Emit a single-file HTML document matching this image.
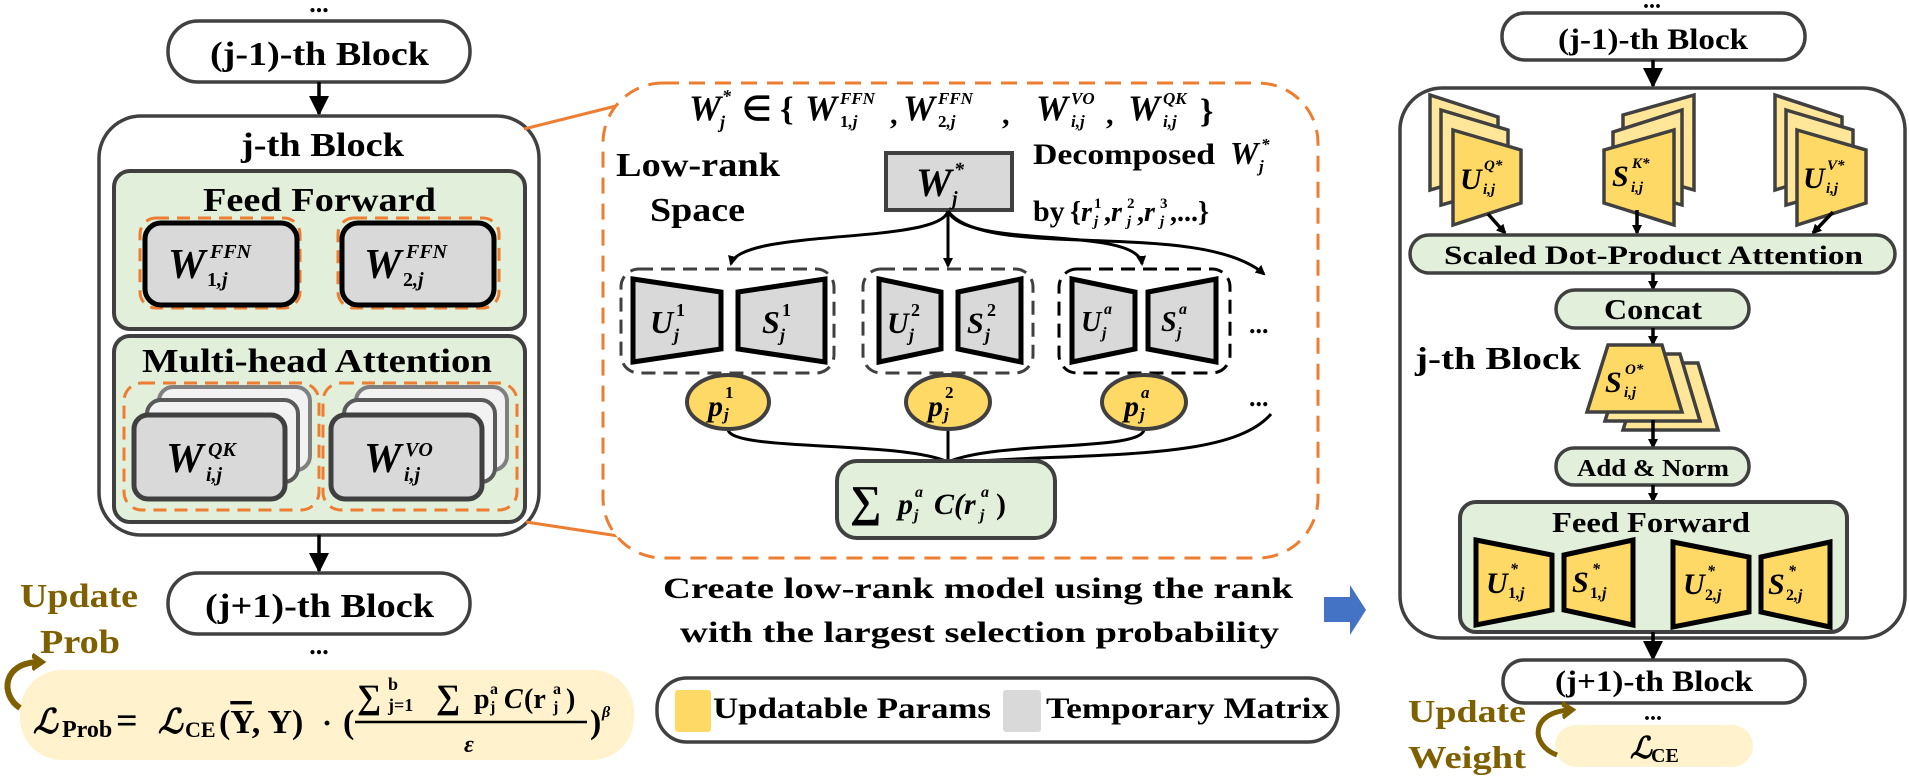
<!DOCTYPE html>
<html><head><meta charset="utf-8"><style>
html,body{margin:0;padding:0;background:#fff;}
svg{display:block;}
text{font-family:"Liberation Serif",serif;font-weight:bold;fill:#000;}
.m{font-style:italic;}
.br{fill:#7f6000;}
</style></head><body>
<svg width="1909" height="781" viewBox="0 0 1909 781" xmlns="http://www.w3.org/2000/svg">
<defs>
<marker id="ah" markerWidth="10" markerHeight="10" refX="8" refY="5" orient="auto" markerUnits="userSpaceOnUse"><path d="M0,0 L10,5 L0,10 z" fill="#000"/></marker>
<marker id="ahb" markerWidth="22" markerHeight="20" refX="18" refY="10" orient="auto" markerUnits="userSpaceOnUse"><path d="M0,0 L20,10 L0,20 z" fill="#000"/></marker>
<marker id="ahbr" markerWidth="18" markerHeight="18" refX="8" refY="9" orient="auto" markerUnits="userSpaceOnUse"><path d="M0,2 L10,9 L0,16" fill="none" stroke="#7f6000" stroke-width="5"/></marker>
</defs>

<!-- ============ LEFT ============ -->
<text x="319" y="12" text-anchor="middle" font-size="26">...</text>
<rect x="168" y="21" width="302" height="61" rx="30" fill="#fff" stroke="#404040" stroke-width="3.5"/>
<text x="210" y="65" font-size="34" textLength="219" lengthAdjust="spacingAndGlyphs">(j-1)-th Block</text>
<line x1="319" y1="82" x2="319" y2="114" stroke="#000" stroke-width="3.5" marker-end="url(#ahb)"/>
<rect x="99" y="116" width="440" height="419" rx="42" fill="#fff" stroke="#404040" stroke-width="3.5"/>
<text x="241" y="156" font-size="34" textLength="163" lengthAdjust="spacingAndGlyphs">j-th Block</text>

<rect x="114" y="171" width="411" height="158" rx="16" fill="#e2efda" stroke="#404040" stroke-width="4"/>
<text x="203" y="211" font-size="34" textLength="233" lengthAdjust="spacingAndGlyphs">Feed Forward</text>
<rect x="140" y="218" width="160" height="90" rx="16" fill="none" stroke="#ed7d31" stroke-width="3" stroke-dasharray="13 8"/>
<rect x="145" y="223" width="152" height="82" rx="16" fill="#d9d9d9" stroke="#000" stroke-width="5"/>
<text class="m" x="168" y="278" font-size="42">W</text>
<text class="m" x="210" y="258" font-size="20">FFN</text>
<text x="207" y="286" font-size="20">1<tspan class="m">,j</tspan></text>
<rect x="338" y="218" width="161" height="90" rx="16" fill="none" stroke="#ed7d31" stroke-width="3" stroke-dasharray="13 8"/>
<rect x="342" y="223" width="152" height="82" rx="16" fill="#d9d9d9" stroke="#000" stroke-width="5"/>
<text class="m" x="364" y="278" font-size="42">W</text>
<text class="m" x="406" y="258" font-size="20">FFN</text>
<text x="403" y="286" font-size="20">2<tspan class="m">,j</tspan></text>

<rect x="114" y="336" width="411" height="186" rx="16" fill="#e2efda" stroke="#404040" stroke-width="4"/>
<text x="142" y="372" font-size="34" textLength="350" lengthAdjust="spacingAndGlyphs">Multi-head Attention</text>
<rect x="124" y="383" width="195" height="127" rx="18" fill="none" stroke="#ed7d31" stroke-width="3" stroke-dasharray="13 8"/>
<rect x="159" y="387" width="151" height="83" rx="14" fill="#f2f2f2" stroke="#808080" stroke-width="4"/>
<rect x="147" y="400" width="151" height="82" rx="14" fill="#f2f2f2" stroke="#595959" stroke-width="4"/>
<rect x="134" y="415" width="151" height="84" rx="14" fill="#d9d9d9" stroke="#404040" stroke-width="5"/>
<text class="m" x="166" y="472" font-size="42">W</text>
<text class="m" x="208" y="456" font-size="20">QK</text>
<text class="m" x="206" y="481" font-size="20">i,j</text>
<rect x="323" y="383" width="194" height="127" rx="18" fill="none" stroke="#ed7d31" stroke-width="3" stroke-dasharray="13 8"/>
<rect x="356" y="387" width="151" height="83" rx="14" fill="#f2f2f2" stroke="#808080" stroke-width="4"/>
<rect x="344" y="400" width="151" height="82" rx="14" fill="#f2f2f2" stroke="#595959" stroke-width="4"/>
<rect x="331" y="415" width="151" height="84" rx="14" fill="#d9d9d9" stroke="#404040" stroke-width="5"/>
<text class="m" x="364" y="472" font-size="42">W</text>
<text class="m" x="405" y="456" font-size="20">VO</text>
<text class="m" x="404" y="481" font-size="20">i,j</text>

<line x1="319" y1="535" x2="319" y2="571" stroke="#000" stroke-width="3.5" marker-end="url(#ahb)"/>
<rect x="168" y="573" width="302" height="61" rx="30" fill="#fff" stroke="#404040" stroke-width="3.5"/>
<text x="205" y="617" font-size="34" textLength="229" lengthAdjust="spacingAndGlyphs">(j+1)-th Block</text>
<text x="319" y="654" text-anchor="middle" font-size="26">...</text>

<text class="br" x="20" y="607" font-size="34" textLength="118" lengthAdjust="spacingAndGlyphs">Update</text>
<text class="br" x="40" y="653" font-size="34" textLength="80" lengthAdjust="spacingAndGlyphs">Prob</text>

<rect x="20" y="670" width="614" height="90" rx="42" fill="#fff2cc"/>
<path d="M20 708 C 0 695, 2 662, 40 662" fill="none" stroke="#7f6000" stroke-width="6" marker-end="url(#ahbr)"/>
<text class="m" x="33" y="733" font-size="34">ℒ</text>
<text x="62" y="737" font-size="24">Prob</text>
<text x="116" y="733" font-size="38">=</text>
<text class="m" x="158" y="733" font-size="34">ℒ</text>
<text x="185" y="737" font-size="22">CE</text>
<text x="219" y="733" font-size="34">(<tspan text-decoration="overline">Y</tspan>, Y)</text>
<text x="322" y="733" font-size="30">·</text>
<text x="343" y="733" font-size="34">(</text>
<text x="357" y="708" font-size="34">∑</text>
<text x="388" y="690" font-size="18">b</text>
<text x="388" y="711" font-size="18">j=1</text>
<text x="436" y="708" font-size="34">∑</text>
<text x="474" y="708" font-size="28">p</text>
<text x="490" y="694" font-size="16">a</text>
<text x="490" y="712" font-size="16">j</text>
<text class="m" x="504" y="708" font-size="28">C</text>
<text x="524" y="708" font-size="28">(r</text>
<text x="553" y="694" font-size="16">a</text>
<text x="553" y="712" font-size="16">j</text>
<text x="566" y="708" font-size="28">)</text>
<line x1="355" y1="722" x2="587" y2="722" stroke="#000" stroke-width="2.5"/>
<text class="m" x="464" y="752" font-size="24">ε</text>
<text x="590" y="733" font-size="34">)</text>
<text class="m" x="602" y="717" font-size="16">β</text>

<!-- connectors -->
<line x1="524" y1="129" x2="628" y2="103" stroke="#ed7d31" stroke-width="3"/>
<line x1="526" y1="522" x2="625" y2="537" stroke="#ed7d31" stroke-width="3"/>

<!-- ============ MIDDLE ============ -->
<rect x="603" y="83" width="715" height="475" rx="60" fill="#fff" stroke="#ed7d31" stroke-width="3" stroke-dasharray="16 10"/>
<text class="m" x="689" y="120" font-size="36">W</text>
<text class="m" x="722" y="102" font-size="18">*</text>
<text class="m" x="720" y="128" font-size="18">j</text>
<text x="742" y="120" font-size="34">∈ {</text>
<text class="m" x="805" y="120" font-size="36">W</text>
<text class="m" x="840" y="104" font-size="17">FFN</text>
<text x="840" y="127" font-size="17">1<tspan class="m">,j</tspan></text>
<text x="890" y="124" font-size="30">,</text>
<text class="m" x="903" y="120" font-size="36">W</text>
<text class="m" x="938" y="104" font-size="17">FFN</text>
<text x="938" y="127" font-size="17">2<tspan class="m">,j</tspan></text>
<text x="1002" y="124" font-size="30">,</text>
<text class="m" x="1036" y="120" font-size="36">W</text>
<text class="m" x="1071" y="104" font-size="17">VO</text>
<text class="m" x="1071" y="127" font-size="17">i,j</text>
<text x="1106" y="124" font-size="30">,</text>
<text class="m" x="1128" y="120" font-size="36">W</text>
<text class="m" x="1163" y="104" font-size="17">QK</text>
<text class="m" x="1163" y="127" font-size="17">i,j</text>
<text x="1200" y="122" font-size="34">}</text>

<text x="616" y="176" font-size="34" textLength="164" lengthAdjust="spacingAndGlyphs">Low-rank</text>
<text x="650" y="221" font-size="34" textLength="95" lengthAdjust="spacingAndGlyphs">Space</text>

<rect x="886" y="153" width="126" height="57" fill="#d9d9d9" stroke="#404040" stroke-width="4"/>
<text class="m" x="916" y="196" font-size="40">W</text>
<text class="m" x="954" y="176" font-size="20">*</text>
<text class="m" x="952" y="205" font-size="20">j</text>

<text x="1033" y="164" font-size="30" textLength="182" lengthAdjust="spacingAndGlyphs">Decomposed</text>
<text class="m" x="1230" y="164" font-size="32">W</text>
<text class="m" x="1261" y="150" font-size="17">*</text>
<text class="m" x="1259" y="172" font-size="17">j</text>
<text x="1033" y="221" font-size="30">by</text>
<text x="1070" y="221" font-size="28">{<tspan class="m">r</tspan></text>
<text x="1094" y="208" font-size="15">1</text><text class="m" x="1094" y="226" font-size="15">j</text>
<text x="1104" y="221" font-size="28">,<tspan class="m">r</tspan></text>
<text x="1127" y="208" font-size="15">2</text><text class="m" x="1127" y="226" font-size="15">j</text>
<text x="1137" y="221" font-size="28">,<tspan class="m">r</tspan></text>
<text x="1160" y="208" font-size="15">3</text><text class="m" x="1160" y="226" font-size="15">j</text>
<text x="1170" y="221" font-size="28">,...}</text>

<g fill="none" stroke="#000" stroke-width="3">
<path d="M948 211 C 940 245, 740 228, 731 264" marker-end="url(#ah)"/>
<path d="M948 211 L 948 266" marker-end="url(#ah)"/>
<path d="M948 211 C 965 250, 1138 225, 1142 264" marker-end="url(#ah)"/>
<path d="M948 211 C 985 262, 1200 218, 1264 274" marker-end="url(#ah)"/>
</g>

<g fill="none" stroke="#404040" stroke-width="3" stroke-dasharray="14 8">
<rect x="621" y="269" width="213" height="104" rx="18"/>
<rect x="863" y="269" width="170" height="104" rx="18"/>
<rect x="1059" y="269" width="171" height="104" rx="18" stroke="#000"/>
</g>
<g fill="#d9d9d9" stroke="#000" stroke-width="5">
<polygon points="633,279 721,292 721,349 633,362"/>
<polygon points="738,292 825,279 825,362 738,349"/>
<polygon points="879,279 941,292 941,349 879,362"/>
<polygon points="958,292 1021,279 1021,362 958,349"/>
<polygon points="1072,279 1135,292 1135,349 1072,362"/>
<polygon points="1148,292 1216,279 1216,362 1148,349"/>
</g>
<text class="m" x="650" y="333" font-size="32">U</text><text x="676" y="316" font-size="18">1</text><text class="m" x="674" y="341" font-size="18">j</text>
<text class="m" x="762" y="333" font-size="32">S</text><text x="782" y="316" font-size="18">1</text><text class="m" x="780" y="341" font-size="18">j</text>
<text class="m" x="887" y="333" font-size="30">U</text><text x="911" y="316" font-size="18">2</text><text class="m" x="909" y="341" font-size="18">j</text>
<text class="m" x="967" y="333" font-size="30">S</text><text x="987" y="316" font-size="18">2</text><text class="m" x="985" y="341" font-size="18">j</text>
<text class="m" x="1081" y="331" font-size="28">U</text><text class="m" x="1104" y="314" font-size="16">a</text><text class="m" x="1102" y="338" font-size="16">j</text>
<text class="m" x="1161" y="331" font-size="28">S</text><text class="m" x="1179" y="314" font-size="16">a</text><text class="m" x="1177" y="338" font-size="16">j</text>
<text x="1249" y="333" font-size="26">...</text>
<text x="1249" y="406" font-size="26">...</text>

<g fill="none" stroke="#000" stroke-width="3">
<path d="M728 429 C 728 452, 900 440, 948 462"/>
<path d="M948 429 L 948 462"/>
<path d="M1144 429 C 1144 452, 1000 440, 948 462"/>
<path d="M1271 414 C 1230 462, 1090 452, 948 463"/>
</g>
<g fill="#ffd966" stroke="#404040" stroke-width="4">
<ellipse cx="728" cy="402" rx="41" ry="27"/>
<ellipse cx="948" cy="402" rx="42" ry="27"/>
<ellipse cx="1144" cy="402" rx="42" ry="27"/>
</g>
<text class="m" x="708" y="416" font-size="30">p</text><text x="725" y="398" font-size="17">1</text><text class="m" x="724" y="420" font-size="17">j</text>
<text class="m" x="928" y="416" font-size="30">p</text><text x="945" y="398" font-size="17">2</text><text class="m" x="944" y="420" font-size="17">j</text>
<text class="m" x="1124" y="416" font-size="30">p</text><text class="m" x="1141" y="398" font-size="17">a</text><text class="m" x="1140" y="420" font-size="17">j</text>

<rect x="837" y="461" width="218" height="77" rx="20" fill="#e2efda" stroke="#404040" stroke-width="4"/>
<text x="850" y="516" font-size="44">∑</text>
<text class="m" x="898" y="514" font-size="30">p</text><text class="m" x="915" y="497" font-size="16">a</text><text class="m" x="914" y="520" font-size="16">j</text>
<text class="m" x="934" y="514" font-size="30">C(r</text><text class="m" x="981" y="497" font-size="16">a</text><text class="m" x="980" y="520" font-size="16">j</text>
<text x="996" y="514" font-size="30">)</text>

<text x="663" y="598" font-size="30" textLength="630" lengthAdjust="spacingAndGlyphs">Create low-rank model using the rank</text>
<text x="680" y="642" font-size="30" textLength="599" lengthAdjust="spacingAndGlyphs">with the largest selection probability</text>

<rect x="657" y="678" width="681" height="64" rx="30" fill="#fff" stroke="#404040" stroke-width="3.5"/>
<rect x="675" y="690" width="36" height="42" rx="3" fill="#ffd966"/>
<text x="713" y="718" font-size="30" textLength="278" lengthAdjust="spacingAndGlyphs">Updatable Params</text>
<rect x="1003" y="690" width="38" height="42" rx="3" fill="#d9d9d9"/>
<text x="1046" y="718" font-size="30" textLength="283" lengthAdjust="spacingAndGlyphs">Temporary Matrix</text>

<polygon points="1324,597 1350,597 1350,585 1366,610 1350,635 1350,622 1324,622" fill="#4472c4"/>

<!-- ============ RIGHT ============ -->
<text x="1652" y="8" text-anchor="middle" font-size="24">...</text>
<rect x="1502" y="13" width="303" height="47" rx="23" fill="#fff" stroke="#404040" stroke-width="3.5"/>
<text x="1558" y="49" font-size="30" textLength="190" lengthAdjust="spacingAndGlyphs">(j-1)-th Block</text>
<line x1="1653" y1="60" x2="1653" y2="86" stroke="#000" stroke-width="3.5" marker-end="url(#ahb)"/>
<rect x="1400" y="88" width="505" height="550" rx="42" fill="#fff" stroke="#404040" stroke-width="3.5"/>

<g stroke="#404040" stroke-width="3.5">
<polygon points="1430,95 1498,117 1498,170 1430,190" fill="#ffe699"/>
<polygon points="1441,110 1508,130 1508,186 1441,205" fill="#ffe699"/>
<polygon points="1453,130 1521,150 1521,203 1453,225" fill="#ffd966"/>
<polygon points="1623,115 1694,95 1694,190 1623,170" fill="#ffe699"/>
<polygon points="1613,132 1682,110 1682,205 1613,186" fill="#ffe699"/>
<polygon points="1604,150 1674,130 1674,225 1604,203" fill="#ffd966"/>
<polygon points="1775,95 1842,117 1842,170 1775,190" fill="#ffe699"/>
<polygon points="1786,110 1853,130 1853,186 1786,205" fill="#ffe699"/>
<polygon points="1797,130 1866,150 1866,203 1797,225" fill="#ffd966"/>
</g>
<text class="m" x="1460" y="189" font-size="30">U</text><text class="m" x="1484" y="170" font-size="15">Q*</text><text class="m" x="1483" y="194" font-size="15">i,j</text>
<text class="m" x="1612" y="186" font-size="30">S</text><text class="m" x="1632" y="168" font-size="15">K*</text><text class="m" x="1631" y="192" font-size="15">i,j</text>
<text class="m" x="1803" y="188" font-size="30">U</text><text class="m" x="1827" y="170" font-size="15">V*</text><text class="m" x="1826" y="193" font-size="15">i,j</text>
<g stroke="#000" stroke-width="3.5" fill="none">
<line x1="1488" y1="214" x2="1505" y2="233" marker-end="url(#ah)"/>
<line x1="1637" y1="210" x2="1637" y2="233" marker-end="url(#ah)"/>
<line x1="1833" y1="212" x2="1813" y2="233" marker-end="url(#ah)"/>
</g>

<rect x="1410" y="235" width="485" height="38" rx="19" fill="#e2efda" stroke="#404040" stroke-width="3.5"/>
<text x="1444" y="264" font-size="26" textLength="419" lengthAdjust="spacingAndGlyphs">Scaled Dot-Product Attention</text>
<line x1="1653" y1="273" x2="1653" y2="289" stroke="#000" stroke-width="3.5" marker-end="url(#ah)"/>
<rect x="1556" y="290" width="193" height="38" rx="19" fill="#e2efda" stroke="#404040" stroke-width="3.5"/>
<text x="1653" y="319" text-anchor="middle" font-size="28" textLength="98" lengthAdjust="spacingAndGlyphs">Concat</text>
<line x1="1653" y1="328" x2="1653" y2="344" stroke="#000" stroke-width="3.5" marker-end="url(#ah)"/>
<text x="1415" y="369" font-size="32" textLength="166" lengthAdjust="spacingAndGlyphs">j-th Block</text>

<g stroke="#404040" stroke-width="3.5">
<polygon points="1623,430 1644,363 1698,363 1718,430" fill="#ffe699"/>
<polygon points="1605,421 1626,354 1680,354 1700,421" fill="#ffe699"/>
<polygon points="1587,412 1608,345 1662,345 1682,412" fill="#ffd966"/>
</g>
<text class="m" x="1605" y="392" font-size="30">S</text><text class="m" x="1625" y="374" font-size="15">O*</text><text class="m" x="1624" y="397" font-size="15">i,j</text>
<line x1="1653" y1="420" x2="1653" y2="447" stroke="#000" stroke-width="3.5" marker-end="url(#ah)"/>
<rect x="1556" y="448" width="193" height="37" rx="18" fill="#e2efda" stroke="#404040" stroke-width="3.5"/>
<text x="1653" y="476" text-anchor="middle" font-size="24" textLength="152" lengthAdjust="spacingAndGlyphs">Add &amp; Norm</text>
<line x1="1653" y1="485" x2="1653" y2="501" stroke="#000" stroke-width="3.5" marker-end="url(#ah)"/>

<rect x="1460" y="502" width="387" height="130" rx="16" fill="#e2efda" stroke="#404040" stroke-width="4"/>
<text x="1552" y="532" font-size="28" textLength="198" lengthAdjust="spacingAndGlyphs">Feed Forward</text>
<g fill="#ffd966" stroke="#000" stroke-width="5">
<polygon points="1476,540 1552,555 1552,610 1476,625"/>
<polygon points="1564,555 1633,540 1633,625 1564,610"/>
<polygon points="1673,542 1749,557 1749,612 1673,627"/>
<polygon points="1761,557 1830,542 1830,627 1761,612"/>
</g>
<text class="m" x="1486" y="593" font-size="30">U</text><text class="m" x="1510" y="574" font-size="16">*</text><text x="1508" y="598" font-size="16">1<tspan class="m">,j</tspan></text>
<text class="m" x="1572" y="592" font-size="30">S</text><text class="m" x="1592" y="574" font-size="16">*</text><text x="1590" y="598" font-size="16">1<tspan class="m">,j</tspan></text>
<text class="m" x="1683" y="594" font-size="30">U</text><text class="m" x="1707" y="576" font-size="16">*</text><text x="1705" y="600" font-size="16">2<tspan class="m">,j</tspan></text>
<text class="m" x="1768" y="594" font-size="30">S</text><text class="m" x="1788" y="576" font-size="16">*</text><text x="1786" y="600" font-size="16">2<tspan class="m">,j</tspan></text>

<line x1="1653" y1="632" x2="1653" y2="659" stroke="#000" stroke-width="3.5" marker-end="url(#ahb)"/>
<rect x="1503" y="660" width="302" height="43" rx="21" fill="#fff" stroke="#404040" stroke-width="3.5"/>
<text x="1555" y="691" font-size="30" textLength="198" lengthAdjust="spacingAndGlyphs">(j+1)-th Block</text>
<text x="1653" y="720" text-anchor="middle" font-size="24">...</text>
<rect x="1555" y="725" width="198" height="42" rx="21" fill="#fff2cc"/>
<text class="m" x="1630" y="758" font-size="30">ℒ</text><text x="1651" y="762" font-size="20">CE</text>
<path d="M1557 755 C 1530 745, 1530 712, 1570 710" fill="none" stroke="#7f6000" stroke-width="5" marker-end="url(#ahbr)"/>
<text class="br" x="1408" y="722" font-size="32" textLength="118" lengthAdjust="spacingAndGlyphs">Update</text>
<text class="br" x="1408" y="768" font-size="32" textLength="118" lengthAdjust="spacingAndGlyphs">Weight</text>
</svg>
</body></html>
